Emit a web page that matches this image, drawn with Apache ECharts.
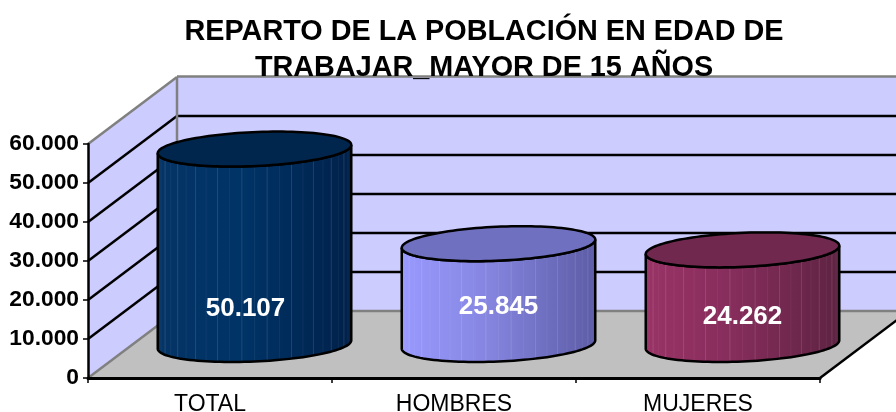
<!DOCTYPE html>
<html><head><meta charset="utf-8">
<style>html,body{margin:0;padding:0;background:#fff}#c{width:896px;height:412px}</style>
<script src="https://cdn.jsdelivr.net/npm/echarts@6/dist/echarts.min.js"></script>
</head><body><div id="c"></div>
<script>
const categories = ['TOTAL', 'HOMBRES', 'MUJERES'];
const values = [50107, 25845, 24262];
const valueLabels = ['50.107', '25.845', '24.262'];
const gridValues = [10000, 20000, 30000, 40000, 50000];
const titleLines = ['REPARTO DE LA POBLACIÓN EN EDAD DE', 'TRABAJAR_MAYOR DE 15 AÑOS'];
const sideColors = [['#053466', '#003366', '#00214a'], ['#9999ff', '#8585e0', '#5c5ca6'], ['#993366', '#862d5c', '#5e2342']];
const topColors = ['#00264d', '#7070c0', '#70284f'];
const labelOffsets = [[-9, -36], [0, -38], [0, -28]];

const DX = 89, DY = 67;            // oblique depth of the floor
const RX = 94, RDX = 23, RDY = 17.5; // cylinder base ellipse vectors
const FONT = '"Liberation Sans", Arial, sans-serif';

function fmt(v) { return String(v).replace(/\B(?=(\d{3})+$)/g, '.'); }

function renderFrame(params, api) {
  const cs = params.coordSys;
  const L = cs.x, R = cs.x + cs.width;
  const y0 = api.coord([0, 0])[1], yT = api.coord([0, 60000])[1];
  const poly = (pts, fill) => ({ type: 'polygon', shape: { points: pts }, style: { fill: fill, stroke: null } });
  const line = (a, b, color, w) => ({
    type: 'line', shape: { x1: a[0], y1: a[1], x2: b[0], y2: b[1] },
    style: { stroke: color, lineWidth: w, fill: null }
  });
  const ch = [
    poly([[L, y0], [L + DX, y0 - DY], [L + DX, yT - DY], [L, yT]], '#ccccff'),
    poly([[L + DX, y0 - DY], [R + DX, y0 - DY], [R + DX, yT - DY], [L + DX, yT - DY]], '#ccccff'),
    poly([[L, y0], [R, y0], [R + DX, y0 - DY], [L + DX, y0 - DY]], '#c0c0c0')
  ];
  gridValues.forEach(v => {
    const y = api.coord([0, v])[1];
    ch.push(line([L, y], [L + DX, y - DY], '#000', 2.5));
    ch.push(line([L + DX, y - DY], [R + DX, y - DY], '#000', 2.5));
  });
  ch.push(line([L + DX, y0 - DY], [L + DX, yT - DY], '#808080', 2.5));
  ch.push(line([L + DX, yT - DY - 0.5], [R + DX, yT - DY - 0.5], '#808080', 2.5));
  ch.push(line([L, yT], [L + DX, yT - DY], '#808080', 2.5));
  ch.push(line([L, y0], [L + DX, y0 - DY], '#808080', 2.5));
  ch.push(line([L + DX, y0 - DY], [R + DX, y0 - DY], '#808080', 2.5));
  ch.push(line([R, y0], [R + DX, y0 - DY], '#000', 2.5));
  return { type: 'group', children: ch };
}

function renderCylinder(params, api) {
  const i = api.value(0), v = api.value(1);
  const base = api.coord([i, 0]), top = api.coord([i, v]);
  const cx = base[0] + DX / 2, by = base[1] - DY / 2, ty = top[1] - DY / 2;
  const P = (t, cy) => [cx + RX * Math.cos(t) + RDX * Math.sin(t), cy - RDY * Math.sin(t)];
  const t0 = Math.atan2(RDX, RX);
  const N = 60;
  const topFront = [], botFront = [], ell = [];
  for (let k = 0; k <= N; k++) {
    const t = t0 + Math.PI + Math.PI * k / N;
    topFront.push(P(t, ty)); botFront.push(P(t, by));
  }
  for (let k = 0; k < 2 * N; k++) ell.push(P(Math.PI * k / N, ty));
  const side = topFront.concat(botFront.slice().reverse());
  const c = sideColors[i];
  const grad = new echarts.graphic.LinearGradient(0, 0, 1, 0, [
    { offset: 0, color: c[0] }, { offset: 0.45, color: c[1] }, { offset: 1, color: c[2] }
  ]);
  const ch = [{ type: 'polygon', shape: { points: side }, style: { fill: grad, stroke: null } }];
  // faint facet lines of the cylinder
  for (let k = 1; k < 24; k++) {
    const t = t0 + Math.PI + Math.PI * k / 24;
    const a = P(t, ty), b = P(t, by);
    ch.push({ type: 'line', shape: { x1: a[0], y1: a[1], x2: b[0], y2: b[1] },
      style: { stroke: 'rgba(255,255,255,' + (k % 2 ? 0.12 : 0.05) + ')', lineWidth: 1, fill: null } });
  }
  ch.push({ type: 'polygon', shape: { points: side }, style: { fill: null, stroke: '#000', lineWidth: 2.5 } });
  ch.push({ type: 'polygon', shape: { points: ell }, style: { fill: topColors[i], stroke: '#000', lineWidth: 2.5 } });
  const off = labelOffsets[i];
  ch.push({ type: 'text', style: {
    x: cx + off[0], y: by + off[1], text: valueLabels[i], fill: '#fff',
    font: 'bold 26px ' + FONT, textAlign: 'center', textVerticalAlign: 'middle'
  }, z2: 10 });
  return { type: 'group', children: ch };
}

const chart = echarts.init(document.getElementById('c'), null, { renderer: 'canvas' });
chart.setOption({
  animation: false,
  backgroundColor: '#fff',
  title: {
    text: titleLines.join('\n'), left: 484, top: 14, padding: 0, textAlign: 'center',
    textStyle: { fontFamily: FONT, fontWeight: 'bold', fontSize: 28.8, lineHeight: 36, color: '#000' }
  },
  grid: { left: 88, top: 144, width: 732, height: 234, containLabel: false, outerBoundsMode: 'none' },
  xAxis: {
    type: 'category', data: categories, z: 4,
    axisLine: { lineStyle: { color: '#000', width: 3 } },
    axisTick: { show: true, alignWithLabel: false, length: 5, lineStyle: { color: '#000', width: 1.5 } },
    axisLabel: { color: '#000', fontFamily: FONT, fontSize: 23, margin: 15 }
  },
  yAxis: {
    type: 'value', min: 0, max: 60000, interval: 10000, z: 4,
    axisLine: { show: true, lineStyle: { color: '#000', width: 2.5 } },
    axisTick: { show: true, length: 5, lineStyle: { color: '#000', width: 1.5 } },
    splitLine: { show: false },
    axisLabel: { color: '#000', fontFamily: FONT, fontWeight: 'bold', fontSize: 22.8, margin: 9, padding: [2, 0, 0, 0], formatter: fmt }
  },
  series: [
    { type: 'custom', z: 1, clip: false, silent: true, renderItem: renderFrame, data: [[0, 0]], encode: { x: 0, y: 1 } },
    { type: 'custom', z: 3, clip: false, silent: true, renderItem: renderCylinder,
      data: values.map((v, i) => [i, v]), encode: { x: 0, y: 1 } }
  ]
});
</script></body></html>
